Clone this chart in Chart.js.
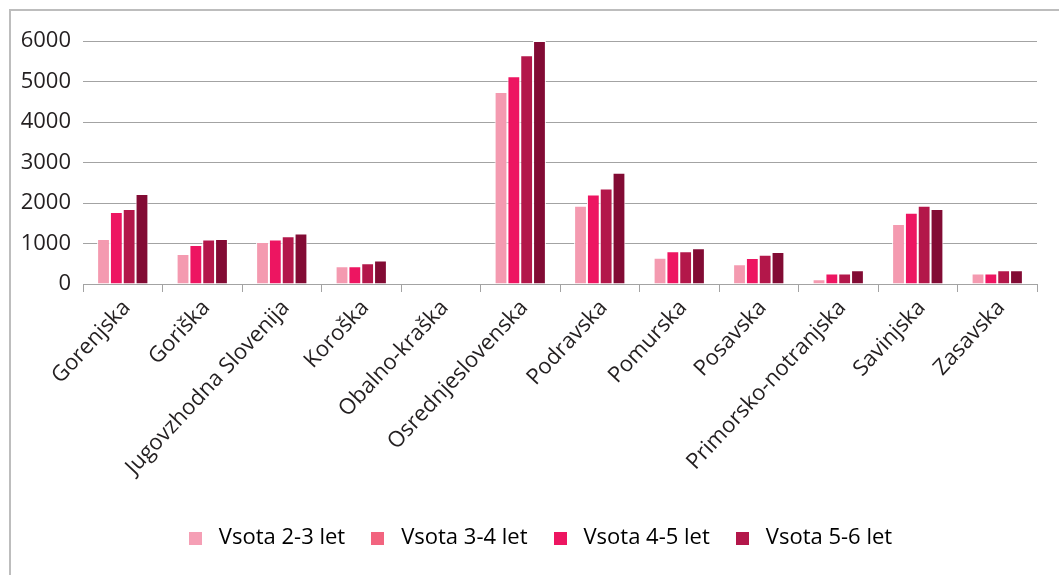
<!DOCTYPE html>
<html>
<head>
<meta charset="utf-8">
<script src="https://cdn.jsdelivr.net/npm/chart.js@4/dist/chart.umd.min.js"></script>
<style>
  html, body { margin: 0; padding: 0; background: #fff; }
  #wrap { position: relative; width: 1059px; height: 575px; overflow: hidden; }
  #frame { position: absolute; left: 9px; top: 9px; right: -5px; bottom: -5px;
           border-left: 2px solid #bdbdbd; border-top: 2px solid #bdbdbd; }
  #chart { position: absolute; left: 0; top: 0; }
</style>
</head>
<body>
<div id="wrap">
  <div id="frame"></div>
  <canvas id="chart" width="1059" height="575"></canvas>
</div>
<script>
// --- DATA ---
const regions = [
  'Gorenjska', 'Goriška', 'Jugovzhodna Slovenija', 'Koroška', 'Obalno-kraška',
  'Osrednjeslovenska', 'Podravska', 'Pomurska', 'Posavska',
  'Primorsko-notranjska', 'Savinjska', 'Zasavska'
];
const seriesNames = ['Vsota 2-3 let', 'Vsota 3-4 let', 'Vsota 4-5 let', 'Vsota 5-6 let'];
const sum23 = [1110, 740, 1040, 440, 0, 4740, 1930, 650, 490, 120, 1480, 260];
const sum34 = [1780, 960, 1100, 440, 0, 5130, 2210, 810, 640, 260, 1760, 260];
const sum45 = [1850, 1100, 1180, 510, 0, 5650, 2360, 810, 720, 260, 1930, 340];
const sum56 = [2220, 1110, 1250, 580, 0, 6000, 2750, 880, 790, 340, 1850, 340];
const yTicks = [0, 1000, 2000, 3000, 4000, 5000, 6000];

// bar fills and the (differently shaded) legend swatches
const barColors = ['#f49ab0', '#ed1561', '#b3174a', '#820b34'];
const legendColors = ['#f59fb5', '#f2647f', '#ed1561', '#b3174a'];

const textColor = '#231f20';
const gridColor = '#a3a3a3';
const font = { family: '"Open Sans", sans-serif', size: 22 };

// small square swatch, drawn as a point style so the gap to the text can be wider
function swatch(color) {
  const c = document.createElement('canvas');
  c.width = 13;
  c.height = 13;
  const g = c.getContext('2d');
  g.fillStyle = color;
  g.fillRect(0, 0, 13, 13);
  return c;
}
const swatches = legendColors.map(swatch);

// legend row sits a little right of the canvas centre
const legendShift = {
  id: 'legendShift',
  afterLayout(chart) {
    chart.legend.left += 19;
    chart.legend.right += 19;
  }
};

const datasets = [sum23, sum34, sum45, sum56].map((values, i) => ({
  label: seriesNames[i],
  data: values,
  backgroundColor: barColors[i],
  borderColor: '#ffffff',
  borderWidth: 1,
  categoryPercentage: 0.645,
  barPercentage: 1.0
}));

new Chart(document.getElementById('chart'), {
  type: 'bar',
  data: { labels: regions, datasets: datasets },
  plugins: [legendShift],
  options: {
    responsive: false,
    animation: false,
    layout: { padding: { top: 41, right: 22, left: 0, bottom: 16 } },
    plugins: {
      tooltip: { enabled: false },
      legend: {
        position: 'bottom',
        labels: {
          color: textColor,
          font: font,
          usePointStyle: true,
          pointStyleWidth: 25,
          boxHeight: 13,
          padding: 20,
          generateLabels: chart => chart.data.datasets.map((ds, i) => ({
            text: ds.label,
            fillStyle: legendColors[i],
            strokeStyle: legendColors[i],
            pointStyle: swatches[i],
            lineWidth: 0,
            datasetIndex: i
          }))
        }
      }
    },
    scales: {
      x: {
        offset: true,
        grid: { offset: true, drawOnChartArea: false, drawTicks: true, tickLength: 8, color: gridColor },
        border: { display: true, color: gridColor, width: 1 },
        ticks: { color: textColor, font: font, minRotation: 47, maxRotation: 47, padding: 3, labelOffset: 4 },
        afterFit: scale => { scale.height = 223; }
      },
      y: {
        min: 0,
        max: 6000,
        afterBuildTicks: scale => { scale.ticks = yTicks.map(v => ({ value: v })); },
        grid: { color: gridColor, drawTicks: false },
        border: { display: false },
        ticks: { color: textColor, font: font, padding: 12, callback: v => String(v) },
        afterFit: scale => { scale.width = 83; }
      }
    }
  }
});
</script>
</body>
</html>
